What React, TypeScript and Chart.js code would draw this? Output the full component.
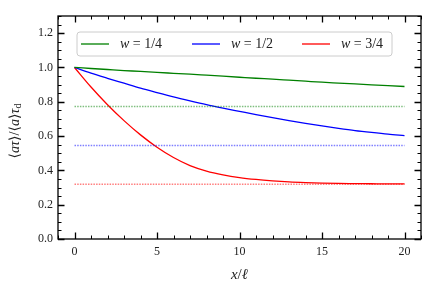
import React, { useEffect, useRef } from "react";
import { Chart, registerables } from "chart.js";
Chart.register(...registerables);

const xValues = [0, 1, 2, 3, 4, 5, 6, 7, 8, 9, 10, 11, 12, 13, 14, 15, 16, 17, 18, 19, 20];
const w14 = [1.0, 0.994, 0.988, 0.982, 0.977, 0.971, 0.966, 0.961, 0.955, 0.949, 0.943, 0.937, 0.932, 0.926, 0.92, 0.914, 0.909, 0.904, 0.899, 0.894, 0.889];
const w12 = [1.0, 0.967, 0.937, 0.908, 0.879, 0.853, 0.828, 0.805, 0.783, 0.763, 0.744, 0.725, 0.707, 0.69, 0.674, 0.659, 0.645, 0.632, 0.621, 0.611, 0.603];
const w34 = [1.0, 0.886, 0.783, 0.69, 0.607, 0.535, 0.475, 0.428, 0.396, 0.374, 0.358, 0.347, 0.339, 0.333, 0.329, 0.326, 0.324, 0.323, 0.322, 0.321, 0.321];
const asymptotes = [0.772, 0.545, 0.319];
const seriesLabels = ["1/4", "1/2", "3/4"];
const seriesColors = ["#008000", "#0000ff", "#ff0000"];
const dottedColors = ["rgba(0,128,0,0.5)", "rgba(0,0,255,0.5)", "rgba(255,0,0,0.5)"];
const xTicks = [0, 5, 10, 15, 20];
const yTicks = [0, 0.2, 0.4, 0.6, 0.8, 1.0, 1.2];

const SERIF = "'Liberation Serif', 'DejaVu Serif', serif";

function drawParts(ctx: CanvasRenderingContext2D, parts: [string, string, number][], cx: number, cy: number) {
  let total = 0;
  for (const [t, f] of parts) {
    ctx.font = f;
    total += ctx.measureText(t).width;
  }
  let xx = cx - total / 2;
  for (const [t, f, dy] of parts) {
    ctx.font = f;
    ctx.fillText(t, xx, cy + dy);
    xx += ctx.measureText(t).width;
  }
}

const framePlugin = {
  id: "frameTicks",
  afterDraw(chart: any) {
    const { ctx, chartArea, scales } = chart;
    const { left, right, top, bottom } = chartArea;
    const xs = scales.x;
    const ys = scales.y;
    ctx.save();
    ctx.strokeStyle = "#000";
    for (let v = -1; v <= 21; v++) {
      const px = Math.round(xs.getPixelForValue(v)) + 0.5;
      const major = v % 5 === 0;
      const len = major ? 6.5 : 3.5;
      ctx.lineWidth = major ? 1.3 : 1;
      ctx.beginPath();
      ctx.moveTo(px, bottom);
      ctx.lineTo(px, bottom - len);
      ctx.moveTo(px, top);
      ctx.lineTo(px, top + len);
      ctx.stroke();
    }
    for (let i = 0; i <= 26; i++) {
      const v = i * 0.05;
      const py = Math.round(ys.getPixelForValue(v)) + 0.5;
      const major = i % 4 === 0;
      const len = major ? 6.5 : 3.5;
      ctx.lineWidth = major ? 1.3 : 1;
      ctx.beginPath();
      ctx.moveTo(left, py);
      ctx.lineTo(left + len, py);
      ctx.moveTo(right, py);
      ctx.lineTo(right - len, py);
      ctx.stroke();
    }
    ctx.lineWidth = 1.3;
    ctx.strokeRect(left, top, right - left, bottom - top);

    // legend
    const lx = left + 19, ly = top + 16, lw = 315, lh = 24;
    ctx.beginPath();
    ctx.roundRect(lx, ly, lw, lh, 3);
    ctx.fillStyle = "rgba(255,255,255,0.85)";
    ctx.fill();
    ctx.strokeStyle = "#cccccc";
    ctx.lineWidth = 1;
    ctx.stroke();
    const starts = [lx + 4, lx + 115, lx + 225];
    ctx.textBaseline = "middle";
    ctx.textAlign = "left";
    for (let i = 0; i < 3; i++) {
      const sx = starts[i];
      const cy = ly + lh / 2;
      ctx.strokeStyle = seriesColors[i];
      ctx.lineWidth = 1.3;
      ctx.beginPath();
      ctx.moveTo(sx, cy);
      ctx.lineTo(sx + 28, cy);
      ctx.stroke();
      ctx.fillStyle = "#222";
      ctx.font = `italic 14px ${SERIF}`;
      const tx = sx + 39;
      ctx.fillText("w", tx, cy);
      const ww = ctx.measureText("w").width;
      ctx.font = `14px ${SERIF}`;
      ctx.fillText(" = " + seriesLabels[i], tx + ww, cy);
    }

    // axis titles
    ctx.fillStyle = "#222";
    ctx.textBaseline = "middle";
    drawParts(ctx, [
      ["x", `italic 15px ${SERIF}`, 0],
      ["/", `15px ${SERIF}`, 0],
      ["ℓ", `italic 15px ${SERIF}`, 0],
    ], (left + right) / 2, 275);
    ctx.save();
    ctx.translate(15, 131);
    ctx.rotate(-Math.PI / 2);
    drawParts(ctx, [
      ["⟨", `14px ${SERIF}`, 0],
      ["aτ", `italic 14px ${SERIF}`, 0],
      ["⟩/⟨", `14px ${SERIF}`, 0],
      ["a", `italic 14px ${SERIF}`, 0],
      ["⟩", `14px ${SERIF}`, 0],
      ["τ", `italic 14px ${SERIF}`, 0],
      ["d", `10px ${SERIF}`, 3],
    ], 0, 0);
    ctx.restore();
    ctx.restore();
  },
};

export default function App() {
  const ref = useRef<HTMLCanvasElement | null>(null);
  useEffect(() => {
    if (!ref.current) return;
    const curves = [w14, w12, w34];
    const datasets: any[] = [];
    for (let i = 0; i < 3; i++) {
      datasets.push({
        data: [
          { x: xValues[0], y: asymptotes[i] },
          { x: xValues[xValues.length - 1], y: asymptotes[i] },
        ],
        borderColor: dottedColors[i],
        borderWidth: 1.5,
        borderDash: [1.5, 1.2],
        pointRadius: 0,
        tension: 0,
      });
    }
    for (let i = 0; i < 3; i++) {
      datasets.push({
        data: xValues.map((x, j) => ({ x, y: curves[i][j] })),
        borderColor: seriesColors[i],
        borderWidth: 1.3,
        pointRadius: 0,
        cubicInterpolationMode: "monotone",
      });
    }
    const chart = new Chart(ref.current, {
      type: "line",
      data: { datasets },
      options: {
        animation: false,
        responsive: false,
        devicePixelRatio: 1,
        layout: { padding: { top: 16, right: 14, left: 0, bottom: 0 } },
        plugins: { legend: { display: false }, tooltip: { enabled: false } },
        scales: {
          x: {
            type: "linear",
            min: -1,
            max: 21,
            afterBuildTicks: (s: any) => { s.ticks = xTicks.map((v) => ({ value: v })); },
            afterFit: (s: any) => { s.height = 52; },
            grid: { display: false, drawTicks: false },
            border: { display: false },
            ticks: { padding: 6, color: "#222", font: { family: SERIF, size: 12 }, maxRotation: 0 },
          },
          y: {
            type: "linear",
            min: 0,
            max: 1.3,
            afterBuildTicks: (s: any) => { s.ticks = yTicks.map((v) => ({ value: v })); },
            afterFit: (s: any) => { s.width = 58; },
            grid: { display: false, drawTicks: false },
            border: { display: false },
            ticks: { padding: 5, color: "#222", font: { family: SERIF, size: 12 }, callback: (v: any) => Number(v).toFixed(1) },
          },
        },
      },
      plugins: [framePlugin],
    });
    return () => chart.destroy();
  }, []);
  return (
    <div style={{ position: "fixed", left: 0, top: 0, width: 435, height: 291, background: "#fff" }}>
      <canvas ref={ref} width={435} height={291} style={{ display: "block" }} />
    </div>
  );
}
